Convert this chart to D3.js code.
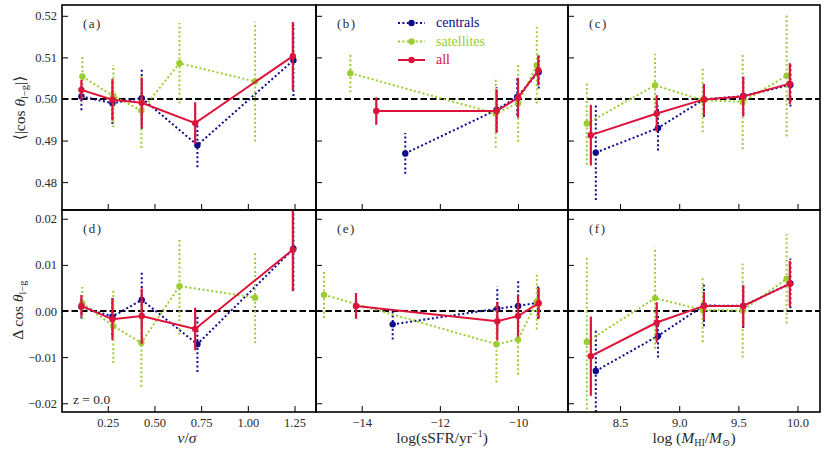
<!DOCTYPE html>
<html>
<head>
<meta charset="utf-8">
<script src="https://cdn.jsdelivr.net/npm/d3@7"></script>
<style>
body { margin: 0; background: #fff; }
</style>
</head>
<body>
<div id="graph"></div>
<script>
// ---- data ----
// v/sigma column
var vsXCen = [0.109, 0.275, 0.432, 0.730, 1.244];
var vsXSat = [0.114, 0.280, 0.430, 0.634, 1.039];
var vsXAll = [0.109, 0.275, 0.432, 0.718, 1.241];
var vsCosCen = [0.5006, 0.4990, 0.5002, 0.4889, 0.5093];
var vsCosCenErr = [0.0033, 0.0050, 0.0074, 0.0053, 0.0086];
var vsCosSat = [0.5054, 0.5007, 0.4972, 0.5086, 0.5042];
var vsCosSatErr = [0.0053, 0.0075, 0.0090, 0.0097, 0.0144];
var vsCosAll = [0.5022, 0.4998, 0.4991, 0.4942, 0.5103];
var vsCosAllErr = [0.0024, 0.0050, 0.0060, 0.0050, 0.0082];
var vsDCen = [0.0009, -0.0012, 0.0024, -0.0072, 0.0135];
var vsDCenErr = [0.0025, 0.0040, 0.0060, 0.0060, 0.0090];
var vsDSat = [0.0017, -0.0033, -0.0069, 0.0054, 0.0029];
var vsDSatErr = [0.0035, 0.0080, 0.0095, 0.0105, 0.0099];
var vsDAll = [0.0011, -0.0018, -0.0011, -0.0039, 0.0133];
var vsDAllErr = [0.0023, 0.0045, 0.0060, 0.0046, 0.0090];

// sSFR column (x differs between the two rows)
var sfXCenTop = [-12.885, -10.547, -10.02, -9.47];
var sfXSatTop = [-14.29, -10.57, -9.995, -9.52];
var sfXAllTop = [-13.627, -10.547, -10.0, -9.48];
var sfXCenBot = [-13.207, -10.53, -9.995, -9.49];
var sfXSatBot = [-14.964, -10.55, -10.0, -9.52];
var sfXAllBot = [-14.146, -10.53, -10.0, -9.47];
var sfCosCen = [0.4869, 0.4974, 0.5005, 0.5065];
var sfCosCenErr = [0.0049, 0.0054, 0.0045, 0.0040];
var sfCosSat = [0.5062, 0.4965, 0.4990, 0.5081];
var sfCosSatErr = [0.0046, 0.0082, 0.0093, 0.0092];
var sfCosAll = [0.4971, 0.4971, 0.5003, 0.5069];
var sfCosAllErr = [0.0033, 0.0052, 0.0048, 0.0036];
var sfDCen = [-0.0029, 0.0005, 0.0011, 0.0018];
var sfDCenErr = [0.0033, 0.0048, 0.0056, 0.0035];
var sfDSat = [0.0035, -0.0072, -0.0062, 0.0020];
var sfDSatErr = [0.0050, 0.0083, 0.0076, 0.0060];
var sfDAll = [0.0011, -0.0022, -0.0011, 0.0017];
var sfDAllErr = [0.0028, 0.0042, 0.0045, 0.0034];

// M_HI column
var mhXCen = [8.295, 8.821, 9.209, 9.541, 9.940];
var mhXSat = [8.219, 8.796, 9.198, 9.536, 9.908];
var mhXAll = [8.253, 8.810, 9.209, 9.541, 9.935];
var mhCosCen = [0.4871, 0.4930, 0.4999, 0.5007, 0.5034];
var mhCosCenErr = [0.0114, 0.0054, 0.0042, 0.0045, 0.0052];
var mhCosSat = [0.4941, 0.5033, 0.4997, 0.4993, 0.5056];
var mhCosSatErr = [0.0099, 0.0076, 0.0077, 0.0114, 0.0146];
var mhCosAll = [0.4913, 0.4965, 0.4999, 0.5006, 0.5037];
var mhCosAllErr = [0.0073, 0.0044, 0.0037, 0.0048, 0.0049];
var mhDCen = [-0.0130, -0.0054, 0.0012, 0.0011, 0.0060];
var mhDCenErr = [0.0089, 0.0047, 0.0045, 0.0048, 0.0054];
var mhDSat = [-0.0067, 0.0028, 0.0002, 0.0001, 0.0070];
var mhDSatErr = [0.0185, 0.0110, 0.0069, 0.0102, 0.0097];
var mhDAll = [-0.0098, -0.0025, 0.0011, 0.0011, 0.0059];
var mhDAllErr = [0.0086, 0.0044, 0.0030, 0.0045, 0.0050];

var vsTicks = [0.25, 0.50, 0.75, 1.00, 1.25];
var sfTicks = [-14, -12, -10];
var mhTicks = [8.5, 9.0, 9.5, 10.0];
var cosTicks = [0.48, 0.49, 0.50, 0.51, 0.52];
var dTicks = [-0.02, -0.01, 0.00, 0.01, 0.02];
var panelNames = [["(a)", "(b)", "(c)"], ["(d)", "(e)", "(f)"]];
var seriesNames = ["centrals", "satellites", "all"];

// ---- layout ----
var FONT = '"Liberation Serif", "DejaVu Serif", serif';
var TXT = "#2a2a2a";
var colX = [62, 316, 568], colW = [254, 252, 252];
var rowY = [5, 210], rowH = [205, 202];
var xDomains = [[0.005, 1.365], [-15.17, -8.72], [8.06, 10.19]];
var yDomains = [[0.4733, 0.5226], [-0.0219, 0.0219]];
var xTicks = [vsTicks, sfTicks, mhTicks];
var xFmt = [d3.format(".2f"), d3.format("d"), d3.format(".1f")];
var yTicks = [cosTicks, dTicks];
var yFmt = d3.format(".2f");

var styles = [
  {color: "#0b0b8c", dash: "2,2.4", r: 3.2, w: 2},
  {color: "#9acd32", dash: "2,2.4", r: 3.2, w: 2},
  {color: "#dc143c", dash: null, r: 3.2, w: 2}
];

function mk(xs, ys, es) {
  return xs.map(function(x, i) { return {x: x, y: ys[i], e: es[i]}; });
}

var panels = [
  [
    [mk(vsXCen, vsCosCen, vsCosCenErr), mk(vsXSat, vsCosSat, vsCosSatErr), mk(vsXAll, vsCosAll, vsCosAllErr)],
    [mk(sfXCenTop, sfCosCen, sfCosCenErr), mk(sfXSatTop, sfCosSat, sfCosSatErr), mk(sfXAllTop, sfCosAll, sfCosAllErr)],
    [mk(mhXCen, mhCosCen, mhCosCenErr), mk(mhXSat, mhCosSat, mhCosSatErr), mk(mhXAll, mhCosAll, mhCosAllErr)]
  ],
  [
    [mk(vsXCen, vsDCen, vsDCenErr), mk(vsXSat, vsDSat, vsDSatErr), mk(vsXAll, vsDAll, vsDAllErr)],
    [mk(sfXCenBot, sfDCen, sfDCenErr), mk(sfXSatBot, sfDSat, sfDSatErr), mk(sfXAllBot, sfDAll, sfDAllErr)],
    [mk(mhXCen, mhDCen, mhDCenErr), mk(mhXSat, mhDSat, mhDSatErr), mk(mhXAll, mhDAll, mhDAllErr)]
  ]
];

var svg = d3.select('#graph').append('svg')
  .attr("width", 828).attr("height", 455)
  .attr("font-family", FONT);

for (var r = 0; r < 2; r++) {
  for (var c = 0; c < 3; c++) {
    var w = colW[c], h = rowH[r];
    var g = svg.append("g").attr("transform", "translate(" + colX[c] + "," + rowY[r] + ")");
    var x = d3.scaleLinear().domain(xDomains[c]).range([0, w]);
    var y = d3.scaleLinear().domain(yDomains[r]).range([h, 0]);
    var clipId = "clip" + r + c;
    g.append("clipPath").attr("id", clipId)
      .append("rect").attr("width", w).attr("height", h);

    // axes, inward ticks
    g.append("g").attr("transform", "translate(0," + h + ")")
      .call(d3.axisBottom(x).tickValues(xTicks[c]).tickSize(-6).tickPadding(6)
        .tickFormat(r == 1 ? xFmt[c] : ""))
      .call(function(a) { a.select(".domain").remove(); });
    g.append("g")
      .call(d3.axisLeft(y).tickValues(yTicks[r]).tickSize(-6).tickPadding(5)
        .tickFormat(c == 0 ? yFmt : ""))
      .call(function(a) { a.select(".domain").remove(); });
    g.selectAll(".tick line").attr("stroke", "#000");
    g.selectAll(".tick text").attr("font-size", 12.5).attr("fill", TXT);

    var plot = g.append("g").attr("clip-path", "url(#" + clipId + ")");
    var ref = r == 0 ? 0.5 : 0;
    plot.append("line")
      .attr("x1", 0).attr("x2", w)
      .attr("y1", y(ref)).attr("y2", y(ref))
      .attr("stroke", "#000").attr("stroke-width", 1.8)
      .attr("stroke-dasharray", "6.5,3");

    var line = d3.line().x(function(d) { return x(d.x); }).y(function(d) { return y(d.y); });
    panels[r][c].forEach(function(pts, s) {
      var st = styles[s];
      var sg = plot.append("g").attr("class", seriesNames[s]);
      sg.selectAll("line.err").data(pts).enter().append("line")
        .attr("class", "err")
        .attr("x1", function(d) { return x(d.x); })
        .attr("x2", function(d) { return x(d.x); })
        .attr("y1", function(d) { return y(d.y - d.e); })
        .attr("y2", function(d) { return y(d.y + d.e); })
        .attr("stroke", st.color).attr("stroke-width", s == 2 ? 2.2 : st.w)
        .attr("stroke-dasharray", st.dash);
      sg.append("path").datum(pts)
        .attr("d", line).attr("fill", "none")
        .attr("stroke", st.color).attr("stroke-width", st.w)
        .attr("stroke-dasharray", st.dash);
      sg.selectAll("circle").data(pts).enter().append("circle")
        .attr("cx", function(d) { return x(d.x); })
        .attr("cy", function(d) { return y(d.y); })
        .attr("r", st.r).attr("fill", st.color);
    });

    g.append("rect").attr("width", w).attr("height", h)
      .attr("fill", "none").attr("stroke", "#000").attr("stroke-width", 1.6);

    g.append("text").attr("x", 21).attr("y", 22.5)
      .attr("font-size", 13).attr("letter-spacing", 1.5)
      .attr("fill", TXT).text(panelNames[r][c]);

    // legend in panel (b)
    if (r == 0 && c == 1) {
      seriesNames.forEach(function(name, s) {
        var st = styles[s], ly = 18 + s * 18.5;
        g.append("line").attr("x1", 82).attr("x2", 109).attr("y1", ly).attr("y2", ly)
          .attr("stroke", st.color).attr("stroke-width", st.w).attr("stroke-dasharray", st.dash);
        g.append("circle").attr("cx", 95.5).attr("cy", ly).attr("r", st.r).attr("fill", st.color);
        g.append("text").attr("x", 120).attr("y", ly + 4).attr("font-size", 14)
          .attr("fill", st.color).text(name);
      });
    }
  }
}

svg.append("text").attr("x", 73).attr("y", 404).attr("font-size", 13.5)
  .attr("fill", TXT).text("z = 0.0");

// y labels
var yl1 = svg.append("text").attr("transform", "translate(25,108) rotate(-90)")
  .attr("text-anchor", "middle").attr("font-size", 15.5).attr("fill", TXT);
yl1.append("tspan").text("\u27E8|cos ");
yl1.append("tspan").attr("font-style", "italic").text("\u03B8");
yl1.append("tspan").attr("font-size", 10.5).attr("dy", 3).text("l\u2212g");
yl1.append("tspan").attr("dy", -3).text("|\u27E9");

var yl2 = svg.append("text").attr("transform", "translate(23,310) rotate(-90)")
  .attr("text-anchor", "middle").attr("font-size", 15.5).attr("fill", TXT);
yl2.append("tspan").text("\u0394 cos ");
yl2.append("tspan").attr("font-style", "italic").text("\u03B8");
yl2.append("tspan").attr("font-size", 10.5).attr("dy", 3).text("l\u2212g");

// x labels
var xl1 = svg.append("text").attr("x", 187).attr("y", 443)
  .attr("text-anchor", "middle").attr("font-size", 15.5).attr("fill", TXT);
xl1.append("tspan").attr("font-style", "italic").text("v");
xl1.append("tspan").text("/");
xl1.append("tspan").attr("font-style", "italic").text("\u03C3");

var xl2 = svg.append("text").attr("x", 442).attr("y", 443)
  .attr("text-anchor", "middle").attr("font-size", 15.5).attr("fill", TXT);
xl2.append("tspan").text("log(sSFR/yr");
xl2.append("tspan").attr("font-size", 10).attr("dy", -6).text("\u22121");
xl2.append("tspan").attr("dy", 6).text(")");

var xl3 = svg.append("text").attr("x", 694).attr("y", 443)
  .attr("text-anchor", "middle").attr("font-size", 15.5).attr("fill", TXT);
xl3.append("tspan").text("log (");
xl3.append("tspan").attr("font-style", "italic").text("M");
xl3.append("tspan").attr("font-size", 10).attr("dy", 3).text("HI");
xl3.append("tspan").attr("dy", -3).text("/");
xl3.append("tspan").attr("font-style", "italic").text("M");
xl3.append("tspan").attr("font-size", 10).attr("dy", 3).text("\u2299");
xl3.append("tspan").attr("dy", -3).text(")");

// d3 axes set their own sans-serif family on the group; force serif everywhere
svg.selectAll("g").attr("font-family", FONT);
</script>
</body>
</html>
